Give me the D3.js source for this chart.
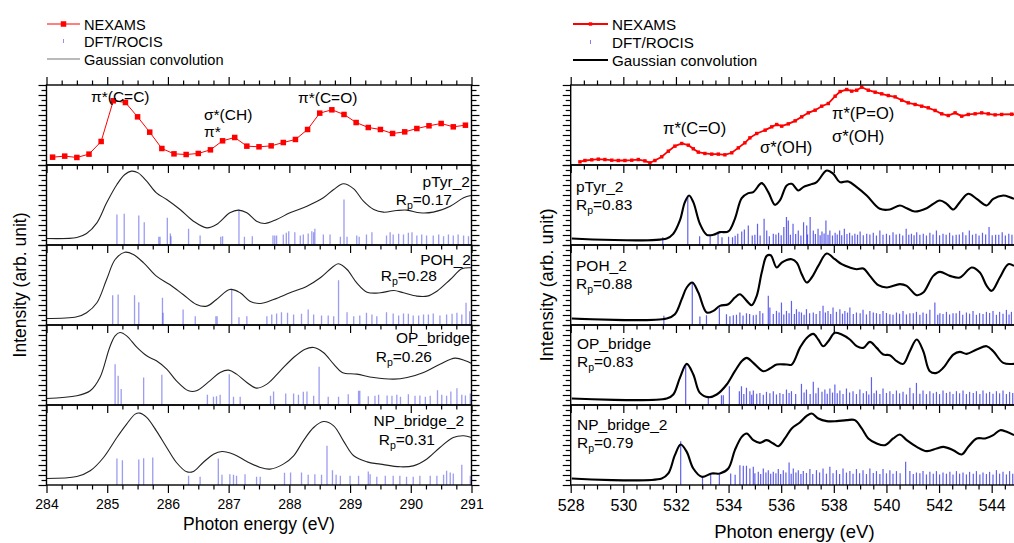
<!DOCTYPE html>
<html>
<head>
<meta charset="utf-8">
<script src="https://cdn.jsdelivr.net/npm/d3@7"></script>
<style>
  body { margin: 0; background: #fff; }
  svg { display: block; font-family: "Liberation Sans", Arial, sans-serif; }
  .axis path { display: none; }
  .axis line { stroke: #000; stroke-width: 1.2; }
</style>
</head>
<body>
<div id="chart"></div>
<script>
// ---- C K-edge (left) ----
const nexamsC = [[284.1,1.8],[284.3,3.2],[284.5,1.4],[284.7,5.9],[284.9,23],[285.1,78],[285.3,75.7],[285.5,56.3],[285.7,35.6],[285.9,13.5],[286.1,6.3],[286.3,5.4],[286.5,6.8],[286.7,11.7],[286.9,23.9],[287.1,28.4],[287.3,16.7],[287.5,15.8],[287.7,17.1],[287.9,21.6],[288.1,25.7],[288.3,39.2],[288.5,61.3],[288.7,65.8],[288.9,59.5],[289.1,48.6],[289.3,41.9],[289.5,39.2],[289.7,33.8],[289.9,36],[290.1,40.5],[290.3,44.2],[290.5,47.3],[290.7,42.8],[290.9,45]];

const convPTyrC = [[284.00,0],[284.50,1.4],[284.66,6.8],[284.83,21.2],[284.99,48.2],[285.16,73],[285.29,86.5],[285.40,91],[285.51,88.7],[285.65,77.5],[285.81,61.7],[285.98,52.7],[286.20,39.2],[286.42,23.4],[286.64,14.4],[286.80,18.9],[287.02,34.7],[287.16,38.3],[287.30,34.7],[287.46,23.4],[287.60,20.3],[287.79,25.7],[288.01,34.7],[288.29,43.7],[288.56,55],[288.73,66.2],[288.89,74],[289.06,67.1],[289.22,50.5],[289.39,39.2],[289.55,35.6],[289.77,37.8],[289.94,38.3],[290.15,34.7],[290.37,35.6],[290.65,43.7],[290.87,55],[290.99,58.1]];
const convPOHC = [[284.00,0],[284.50,2.3],[284.66,7.7],[284.83,21.2],[284.99,52.7],[285.13,79.7],[285.29,89.6],[285.43,86.5],[285.60,75.2],[285.81,57.2],[286.03,45.9],[286.25,32.4],[286.47,18.9],[286.64,16.7],[286.80,25.7],[287.02,39.2],[287.19,34.7],[287.35,23.4],[287.52,20.3],[287.74,25.7],[288.01,34.7],[288.29,43.7],[288.51,55],[288.73,70.7],[288.81,73.9],[288.95,66.2],[289.11,48.2],[289.28,35.6],[289.50,34.7],[289.72,37.8],[289.88,34.7],[290.10,30.2],[290.27,30.2],[290.43,36.9],[290.65,52.7],[290.84,67.1],[290.99,68.5]];
const convOPC = [[284.00,0],[284.50,3.6],[284.72,10.4],[284.88,28.4],[285.04,69],[285.13,84.7],[285.21,89.2],[285.32,84.7],[285.49,69],[285.65,57.7],[285.81,50.9],[285.98,39.7],[286.14,23.9],[286.34,10.4],[286.47,10.4],[286.69,23.9],[286.86,35.2],[287.00,38.3],[287.13,32.9],[287.30,21.7],[287.46,14],[287.63,19.4],[287.85,37.4],[288.07,55.4],[288.26,66.7],[288.40,69],[288.56,62.2],[288.73,46.4],[288.87,35.2],[289.11,32.9],[289.39,28.4],[289.72,26.2],[289.94,28.4],[290.21,35.2],[290.48,46.4],[290.73,54.5],[290.90,50.9],[291.00,47.3]];
const convNPC = [[284.00,0],[284.50,2.7],[284.72,10.4],[284.94,28.4],[285.16,55.4],[285.32,73.4],[285.46,87],[285.54,88.3],[285.65,82.5],[285.81,64.4],[285.98,41.9],[286.14,21.6],[286.31,9],[286.42,9.5],[286.58,21.6],[286.75,32.9],[286.89,36.5],[287.08,32.9],[287.30,23],[287.52,14.9],[287.68,12.7],[287.90,19.4],[288.07,30.7],[288.23,50.9],[288.40,68.9],[288.56,77],[288.73,71.2],[288.89,50.9],[289.06,30.7],[289.28,22.5],[289.50,19.4],[289.83,15.8],[290.04,17.1],[290.26,26.1],[290.48,41.9],[290.70,55.4],[290.87,57.7],[291.00,55.4]];

const sticksPTyrC = [[285.16,32.4],[285.28,33.3],[285.52,31.1],[285.61,22.1],[285.85,2.3],[285.87,2.3],[285.99,27.9],[286.04,6.8],[286.05,3.2],[286.34,13.1],[286.53,4.1],[286.87,2.3],[286.90,3.2],[287.17,39.2],[287.26,2.3],[287.39,3.2],[287.73,4.1],[287.76,4.1],[287.79,4.1],[287.90,5.4],[287.95,7.7],[287.99,9.9],[288.09,8.6],[288.18,4.1],[288.23,5.4],[288.31,6.8],[288.37,9.9],[288.40,8.6],[288.42,13.1],[288.56,5.4],[288.67,5.4],[288.84,2.3],[288.90,52.7],[288.95,2.3],[289.11,4.1],[289.15,2.3],[289.27,5.4],[289.36,8.6],[289.60,4.1],[289.66,8.6],[289.71,5.4],[289.80,6.4],[289.88,5.4],[289.96,7.7],[290.02,8.6],[290.10,4.1],[290.18,5.4],[290.26,4.1],[290.37,4.1],[290.46,5.4],[290.54,3.2],[290.62,5.4],[290.70,4.1],[290.78,5.4],[290.87,4.1],[290.95,3.2]];
const sticksPOHC = [[285.09,31.5],[285.18,32.4],[285.45,31.5],[285.52,22.1],[285.91,27.9],[285.92,7.7],[286.25,12.2],[286.45,3.2],[286.79,3.2],[286.81,3.2],[287.05,40.1],[287.17,1.8],[287.30,3.2],[287.63,3.2],[287.71,5.4],[287.79,6.8],[287.87,8.6],[287.97,7.7],[288.07,5.4],[288.20,6.3],[288.31,12.2],[288.40,5.4],[288.53,4.1],[288.64,4.1],[288.73,3.2],[288.81,51.8],[288.95,8.6],[289.06,3.2],[289.16,4.1],[289.27,7.7],[289.36,5.4],[289.44,3.2],[289.60,8.6],[289.71,6.8],[289.80,4.1],[289.88,6.8],[289.96,6.3],[290.04,4.1],[290.13,4.1],[290.21,5.4],[290.29,5.4],[290.37,6.8],[290.48,4.1],[290.59,5.4],[290.68,6.3],[290.76,7.7],[290.84,5.4],[290.91,21.2],[290.97,9.9]];
const sticksOPC = [[285.13,46.4],[285.18,30.7],[285.23,12.7],[285.60,28.4],[285.90,32],[286.65,5],[286.75,2.3],[286.80,3.2],[286.86,5],[287.01,32.9],[287.08,2.3],[287.19,2.3],[287.69,3.6],[287.74,9.5],[287.94,6.8],[288.07,6.8],[288.15,5],[288.23,9.1],[288.29,9.5],[288.40,3.6],[288.49,42.8],[288.64,2.3],[288.81,2.3],[288.97,5.9],[289.14,10.4],[289.16,10.4],[289.30,3.2],[289.41,3.6],[289.47,5],[289.61,4.1],[289.69,3.6],[289.77,5],[289.83,2.3],[289.96,5.9],[290.07,3.6],[290.15,4.1],[290.24,2.3],[290.32,3.6],[290.44,11.3],[290.51,5],[290.59,3.6],[290.66,9.5],[290.76,14],[290.84,5],[290.90,4.1],[290.98,6.8]];
const sticksNPC = [[285.16,27.1],[285.25,24.8],[285.52,25.7],[285.60,27.5],[285.75,28.4],[286.34,3.6],[286.53,2.3],[286.83,27.1],[286.89,5],[287.02,5.9],[287.08,5],[287.13,3.6],[287.27,5.9],[287.46,2.3],[287.52,2.3],[287.92,7.7],[288.02,8.1],[288.20,8.1],[288.31,5],[288.42,5.9],[288.53,5],[288.62,44.2],[288.71,11.3],[288.77,5],[288.84,3.6],[289.00,3.6],[289.14,3.6],[289.30,9.5],[289.33,5.9],[289.44,2.3],[289.58,3.6],[289.71,3.6],[289.82,3.6],[289.93,2.3],[290.04,2.3],[290.15,3.6],[290.32,3.6],[290.43,3.6],[290.54,5],[290.59,10.4],[290.65,8.1],[290.70,6.8],[290.84,18.5],[290.98,3.6]];

// ---- O K-edge (right) ----
const nexamsO = [[528.35,-4.5],[528.54,-2.7],[528.80,-1.8],[529.05,-0.9],[529.30,-1.4],[529.56,-2.3],[529.81,-2.7],[530.06,-2.7],[530.32,-2.3],[530.57,-1.4],[530.82,-3.2],[531.01,-5.9],[531.20,-2.7],[531.46,2.3],[531.71,9.9],[531.96,16.7],[532.22,20.3],[532.47,18],[532.66,13.1],[532.85,8.6],[533.10,6.8],[533.36,5.9],[533.61,5.9],[533.86,5],[534.12,7.7],[534.37,14.4],[534.62,21.2],[534.81,27.9],[535.07,33.8],[535.39,38.3],[535.64,42.8],[535.83,45.9],[536.02,43.7],[536.27,46.8],[536.53,50.9],[536.78,56.3],[537.03,61.7],[537.29,65.3],[537.54,70.7],[537.79,74.3],[538.05,84.2],[538.24,90.5],[538.49,93.2],[538.68,91],[538.87,92.3],[539.06,96.4],[539.31,92.3],[539.57,89.6],[539.82,87.4],[540.07,85.1],[540.33,83.3],[540.58,78.8],[540.83,75.2],[541.09,73],[541.34,70.7],[541.59,68.5],[541.85,64.9],[542.10,60.4],[542.35,58.1],[542.61,61.7],[542.86,57.2],[543.11,59.5],[543.37,60.4],[543.62,61.7],[543.87,60.4],[544.13,59],[544.38,59.5],[544.76,59.9],[544.95,59.5]];

const convPTyrO = [[528.04,0],[531.65,0],[531.90,6.4],[532.15,24.4],[532.34,49.1],[532.50,58.1],[532.66,49.1],[532.91,19.9],[533.17,5],[533.42,5],[533.67,8.6],[533.99,9.5],[534.24,26.6],[534.50,54.5],[534.75,61.3],[534.94,62.7],[535.26,74.8],[535.51,62.7],[535.76,45.5],[535.95,51.4],[536.21,71.7],[536.40,73.9],[536.65,64.9],[536.84,69.4],[537.09,72.6],[537.35,76.2],[537.73,91.9],[537.98,87.4],[538.23,76.2],[538.55,77.1],[538.87,69.4],[539.25,58.1],[539.75,40.1],[540.13,39.2],[540.51,44.6],[540.77,41],[541.08,36.5],[541.53,41],[542.03,51.4],[542.29,46.9],[542.54,39.2],[542.79,49.1],[543.11,60.4],[543.43,53.6],[543.81,44.6],[544.06,53.6],[544.44,58.1],[544.69,55.9],[544.85,53.6]];
const convPOHO = [[528.04,0],[531.65,0],[531.96,5.8],[532.22,26.1],[532.41,41.9],[532.62,48.6],[532.85,35.1],[533.17,8.1],[533.42,10.3],[533.67,17.1],[533.99,19.3],[534.24,28.3],[534.43,32.8],[534.69,23.8],[534.88,18],[535.07,30.6],[535.26,62.1],[535.45,84.6],[535.60,85.5],[535.83,68.9],[536.02,75.6],[536.21,79.2],[536.40,80.1],[536.59,75.6],[536.78,59.9],[536.97,48.6],[537.16,55.4],[537.41,71.1],[537.73,87.8],[538.04,80.1],[538.30,73.4],[538.61,68.9],[538.87,66.6],[539.12,67.5],[539.37,57.6],[539.69,45],[540.01,41.9],[540.51,46.4],[540.77,44.1],[541.15,31.5],[541.40,35.1],[541.78,57.6],[542.03,63],[542.41,57.6],[542.79,55.4],[543.24,68.9],[543.55,62.1],[543.81,44.1],[544.00,37.4],[544.31,55.4],[544.63,73.4],[544.85,71.1]];
const convOPO = [[528.04,0],[531.65,0],[531.90,5.4],[532.15,27.9],[532.41,46.8],[532.66,32.4],[532.91,7.6],[533.23,1.8],[533.55,5.4],[533.93,18.9],[534.24,36.9],[534.50,50.4],[534.69,54.9],[534.94,48.1],[535.32,36.9],[535.57,40.5],[535.83,45.9],[536.21,45.9],[536.40,45.9],[536.71,68.4],[536.97,81.9],[537.22,87.3],[537.41,79.7],[537.60,70.7],[537.79,77.4],[538.04,88.7],[538.30,86.4],[538.61,79.7],[538.87,70.7],[539.12,68.4],[539.37,76.5],[539.63,68.4],[539.88,59.4],[540.13,58.5],[540.39,50.4],[540.64,46.8],[540.89,63.9],[541.15,79.7],[541.40,63.9],[541.65,36.9],[541.91,34.6],[542.16,41.4],[542.54,59.4],[542.79,63],[543.05,60.3],[543.43,66.2],[543.81,70.7],[544.06,63.9],[544.44,48.1],[544.85,46.8]];
const convNPO = [[528.04,0],[531.46,0],[531.71,6.8],[531.96,31.5],[532.18,45.9],[532.41,36],[532.66,13.5],[532.98,2.3],[533.36,6.8],[533.67,6.8],[533.99,13.5],[534.24,38.3],[534.50,56.3],[534.69,60.8],[534.94,51.8],[535.19,48.2],[535.45,51.8],[535.70,47.3],[535.89,43.7],[536.14,54.1],[536.40,67.6],[536.71,75.7],[536.97,84.7],[537.16,87.9],[537.41,81.1],[537.73,77.5],[538.11,77.5],[538.49,78.9],[538.80,78.9],[539.06,67.6],[539.31,54.1],[539.63,47.3],[539.94,45],[540.26,54.1],[540.51,59.5],[540.77,51.8],[541.15,42.8],[541.53,37],[541.91,40.5],[542.16,42.8],[542.54,38.3],[542.86,32.4],[543.11,42.8],[543.43,54.1],[543.75,54.1],[544.06,58.6],[544.32,65.3],[544.57,63.1],[544.85,58.6]];

const sticksPTyrO = [[531.50,1.8],[532.45,58],[532.90,3.2],[533.30,4.1],[533.60,7.7],[533.75,1.8],[534.00,2.3],[534.15,1.8],[534.25,3.6],[534.35,6.4],[534.50,9.5],[534.60,12.2],[534.75,17.6],[534.90,4.1],[535.00,5],[535.10,19.9],[535.20,4],[535.35,26.6],[535.45,10.9],[535.55,3.2],[535.70,6.4],[535.80,5.4],[535.90,7.7],[536.00,4.5],[536.10,15.4],[536.20,28.9],[536.27,24.4],[536.35,5],[536.45,19.9],[536.55,6],[536.65,10.9],[536.75,4],[536.85,22.1],[536.97,17.6],[537.00,5.4],[537.10,28.9],[537.22,10.9],[537.30,6],[537.40,13.1],[537.48,4.5],[537.55,9.5],[537.63,6.8],[537.70,24.4],[537.78,5],[537.85,10.9],[537.95,4],[538.05,7.7],[538.13,5.4],[538.22,10.9],[538.30,4.5],[538.40,13.1],[538.50,6],[538.60,7.7],[538.70,4],[538.80,6.4],[538.90,5],[539.00,9.5],[539.12,4.5],[539.25,6.4],[539.37,5.4],[539.50,7.7],[539.62,4],[539.75,10.9],[539.87,5],[540.00,6.4],[540.12,4.5],[540.25,8.6],[540.37,5.4],[540.50,6.4],[540.62,4],[540.75,13.1],[540.85,5],[540.95,6.4],[541.05,4.5],[541.15,8.6],[541.27,5],[541.40,6.4],[541.52,4],[541.65,7.7],[541.77,5.4],[541.90,10.9],[542.02,4.5],[542.15,6.4],[542.27,5],[542.40,7.7],[542.52,4],[542.65,5],[542.77,5.4],[542.90,8.6],[543.02,4.5],[543.15,10.9],[543.27,5],[543.40,6.4],[543.52,4],[543.65,7.7],[543.77,5.4],[543.90,15.4],[544.02,4.5],[544.15,5],[544.27,5],[544.40,8.6],[544.52,4],[544.65,6.4],[544.77,5]];
const sticksPOHO = [[531.54,3.6],[532.62,48.6],[532.91,2.7],[533.16,4.5],[533.65,14.8],[533.92,5.8],[534.05,3],[534.18,4.5],[534.30,5],[534.43,8.1],[534.55,4],[534.68,7.2],[534.80,6],[534.94,4.5],[535.05,5],[535.19,10.3],[535.30,7],[535.51,30.6],[535.57,14.8],[535.70,6],[535.82,10.3],[535.92,8],[536.01,21.6],[536.10,5.5],[536.20,10.3],[536.30,7],[536.39,23.8],[536.50,6],[536.58,12.6],[536.68,9],[536.77,8.1],[536.87,5],[536.96,12.6],[537.08,7],[537.22,8.1],[537.33,6],[537.47,10.3],[537.59,17.1],[537.68,8],[537.78,10.3],[537.88,6],[537.97,14.8],[538.10,9],[538.23,12.6],[538.33,6.5],[538.42,10.3],[538.52,8],[538.61,14.8],[538.74,6],[538.86,8.1],[539.00,7],[539.11,11.7],[539.24,5.5],[539.37,10.3],[539.50,8],[539.62,7.2],[539.75,6],[539.87,10.3],[540.00,7.5],[540.13,5.8],[540.25,5],[540.38,8.1],[540.50,6.5],[540.63,10.3],[540.76,5.5],[540.89,7.2],[541.02,7],[541.14,9],[541.27,5],[541.39,8.1],[541.52,6.5],[541.65,11.7],[541.84,21.6],[541.95,5],[542.03,7.2],[542.15,6],[542.28,9],[542.40,5.5],[542.53,7.2],[542.65,7],[542.78,10.3],[542.90,5],[543.04,8.1],[543.16,6.5],[543.29,10.3],[543.42,5],[543.54,7.2],[543.67,6],[543.80,9],[543.92,7.5],[544.05,10.3],[544.18,5],[544.30,9],[544.43,6.5],[544.56,11.7],[544.66,5.5],[544.75,9],[544.88,7]];
const sticksOPO = [[532.37,46.8],[533.23,3.1],[533.73,4.5],[533.80,4.5],[534.03,16.6],[534.41,9.9],[534.49,16.6],[534.58,6],[534.68,14.4],[534.81,9.9],[534.88,5],[534.94,10.8],[535.07,6.5],[535.19,7.6],[535.32,5],[535.44,9],[535.57,7],[535.70,9.9],[535.82,5.5],[535.95,7.6],[536.07,6],[536.20,12.1],[536.30,7.5],[536.39,9.9],[536.55,6],[536.77,19.8],[536.87,8],[536.96,12.1],[537.10,6],[537.22,22.5],[537.32,7],[537.41,14.4],[537.55,9],[537.66,12.1],[537.75,6.5],[537.85,13.5],[537.95,8],[538.04,18.9],[538.13,7],[538.23,10.8],[538.35,6],[538.48,13.5],[538.60,8],[538.73,9.9],[538.86,6],[538.99,12.1],[539.12,7],[539.24,9.9],[539.33,5.5],[539.43,28.8],[539.53,7],[539.62,10.8],[539.75,6],[539.87,13.5],[540.00,7.5],[540.13,9.9],[540.25,6],[540.38,10.8],[540.50,7],[540.63,9],[540.76,5.5],[540.89,14.4],[541.02,7],[541.14,21.1],[541.27,6.5],[541.39,10.8],[541.52,6],[541.65,9.9],[541.78,7],[541.90,9],[542.02,6],[542.15,10.8],[542.28,7.5],[542.41,9],[542.53,6],[542.66,9.9],[542.78,7],[542.91,10.8],[543.04,6],[543.16,9],[543.30,7.5],[543.42,9.9],[543.55,6],[543.67,10.8],[543.80,7],[543.92,9],[544.05,6.5],[544.18,9.9],[544.30,7],[544.43,10.8],[544.56,6],[544.68,9],[544.80,7.5]];
const sticksNPO = [[532.18,50.5],[533.01,2],[533.32,6.8],[533.65,5.4],[534.08,6.8],[534.25,5],[534.43,18],[534.56,17.2],[534.68,17.2],[534.81,13.6],[534.94,15.8],[535.00,7],[535.13,9],[535.22,6],[535.32,13.6],[535.42,8],[535.51,11.3],[535.60,6.5],[535.70,9],[535.80,7],[535.89,12.7],[535.98,6],[536.08,11.3],[536.18,8],[536.30,21.6],[536.38,6.5],[536.46,13.6],[536.56,8],[536.65,11.3],[536.75,6],[536.84,10],[536.96,7.5],[537.09,12.7],[537.20,6],[537.34,11.3],[537.46,8],[537.59,13.6],[537.72,6.5],[537.85,15.8],[537.97,7],[538.10,11.3],[538.22,6],[538.35,13.6],[538.48,8],[538.61,10],[538.73,6.5],[538.86,12.7],[538.98,7],[539.11,11.3],[539.24,6],[539.37,13.6],[539.50,7.5],[539.62,10],[539.75,6],[539.87,12.7],[540.00,7],[540.13,11.3],[540.25,6.5],[540.38,10],[540.52,7],[540.73,22.5],[540.89,10],[541.02,6],[541.14,8.1],[541.27,7],[541.39,10],[541.52,5.5],[541.65,9],[541.78,6.5],[541.90,10],[542.02,5.5],[542.15,8.1],[542.28,6.5],[542.41,9],[542.53,5.5],[542.66,10],[542.78,6.5],[542.91,8.1],[543.04,5.5],[543.16,9],[543.30,6.5],[543.42,10],[543.55,5.5],[543.67,8.1],[543.80,6],[543.92,9],[544.05,5.5],[544.18,11.3],[544.30,6.5],[544.43,9],[544.56,5.5],[544.68,10],[544.80,6.5]];

// ---- layout ----
const [width, height] = [1014, 543];
const panelTops = [85, 165, 245, 325, 405];
const panelH = 80;
const bottom = panelTops[4] + panelH;

const svg = d3.select("#chart").append("svg")
  .attr("width", width).attr("height", height);

const leftPlot = {
  id: "L", domain: [284, 291], left: 46.5, right: 471.5,
  major: d3.range(284, 291.001, 1), minor: d3.range(284, 291.001, 0.25),
  tickFont: 14, tickPad: 6, titleFont: 17.5, titleY: 530, yTitleX: 26,
  nexams: nexamsC, marker: 5.5, nexW: 1,
  convColor: "#222", convW: 1.1,
  stickColor: "#4a4ae6", stickOpacity: 0.55, stickW: 1.3,
  legend: { x1: 47, x2: 80, tx: 84, ys: [24, 41, 59], font: 14.6, gaussColor: "#777" },
  notes: [
    { t: "\u03c0*(C=C)", x: 91, y: 102 },
    { t: "\u03c3*(CH)", x: 204, y: 120 },
    { t: "\u03c0*", x: 204, y: 137 },
    { t: "\u03c0*(C=O)", x: 298, y: 103 }
  ],
  noteFont: 15.5,
  panels: [
    { conv: convPTyrC, sticks: sticksPTyrC, name: "pTyr_2", rp: "0.17", nx: 470, ny: 187, rx: 452, ry: 205 },
    { conv: convPOHC, sticks: sticksPOHC, name: "POH_2", rp: "0.28", nx: 471, ny: 265, rx: 437, ry: 281 },
    { conv: convOPC, sticks: sticksOPC, name: "OP_bridge", rp: "0.26", nx: 470, ny: 343, rx: 432, ry: 362 },
    { conv: convNPC, sticks: sticksNPC, name: "NP_bridge_2", rp: "0.31", nx: 464, ny: 426, rx: 435, ry: 445 }
  ],
  labelAnchor: "end", labelFont: 15.5
};

const rightPlot = {
  id: "R", domain: [528, 545], left: 570.7, right: 1018,
  major: d3.range(528, 544.001, 2), minor: d3.range(528, 545.001, 0.5),
  tickFont: 16, tickPad: 7, titleFont: 18.5, titleY: 538, yTitleX: 553,
  nexams: nexamsO, marker: 3.4, nexW: 1.8,
  convColor: "#000", convW: 2.1,
  stickColor: "#2b2be2", stickOpacity: 0.75, stickW: 1.2,
  legend: { x1: 573, x2: 608, tx: 612, ys: [24, 42, 60], font: 15.2, gaussColor: "#000" },
  notes: [
    { t: "\u03c0*(C=O)", x: 663, y: 134 },
    { t: "\u03c3*(OH)", x: 760, y: 153 },
    { t: "\u03c0*(P=O)", x: 832, y: 119 },
    { t: "\u03c3*(OH)", x: 832, y: 142 }
  ],
  noteFont: 16.5,
  panels: [
    { conv: convPTyrO, sticks: sticksPTyrO, name: "pTyr_2", rp: "0.83", nx: 576, ny: 192, rx: 576, ry: 210 },
    { conv: convPOHO, sticks: sticksPOHO, name: "POH_2", rp: "0.88", nx: 576, ny: 271, rx: 576, ry: 289 },
    { conv: convOPO, sticks: sticksOPO, name: "OP_bridge", rp: "0.83", nx: 577, ny: 349, rx: 577, ry: 367 },
    { conv: convNPO, sticks: sticksNPO, name: "NP_bridge_2", rp: "0.79", nx: 577, ny: 430, rx: 577, ry: 448 }
  ],
  labelAnchor: "start", labelFont: 15.5
};

// curve baseline sits 6.5 px above the panel floor; 100 units = 74 px
function panelY(i) {
  const base = panelTops[i] + panelH - 6.5;
  return d3.scaleLinear().domain([0, 100]).range([base, base - 74]);
}

function drawPlot(p) {
  const x = d3.scaleLinear().domain(p.domain).range([p.left, p.right]);
  const minorOnly = p.minor.filter(v => !p.major.some(m => Math.abs(m - v) < 1e-6));

  svg.append("clipPath").attr("id", "clip" + p.id)
    .append("rect")
    .attr("x", p.left).attr("y", panelTops[0])
    .attr("width", p.right - p.left).attr("height", bottom - panelTops[0]);

  const plot = svg.append("g").attr("clip-path", `url(#clip${p.id})`);

  // experimental spectrum (top panel)
  const y0 = panelY(0);
  const nexLine = d3.line().x(d => x(d[0])).y(d => y0(d[1]));
  plot.append("path").datum(p.nexams)
    .attr("d", nexLine).attr("fill", "none")
    .attr("stroke", "#f00").attr("stroke-width", p.nexW);
  plot.selectAll(".nex" + p.id).data(p.nexams).enter().append("rect")
    .attr("x", d => x(d[0]) - p.marker / 2)
    .attr("y", d => y0(d[1]) - p.marker / 2)
    .attr("width", p.marker).attr("height", p.marker)
    .attr("fill", "#f00");

  // calculated panels
  p.panels.forEach((pan, k) => {
    const y = panelY(k + 1);
    const floor = panelTops[k + 1] + panelH;   // sticks rise from the panel floor
    plot.append("g").selectAll("line").data(pan.sticks).enter().append("line")
      .attr("x1", d => x(d[0])).attr("x2", d => x(d[0]))
      .attr("y1", floor).attr("y2", d => y(d[1]))
      .attr("stroke", p.stickColor).attr("stroke-opacity", p.stickOpacity)
      .attr("stroke-width", p.stickW);

    const line = d3.line().x(d => x(d[0])).y(d => y(d[1])).curve(d3.curveCatmullRom.alpha(0.5));
    plot.append("path").datum(pan.conv)
      .attr("d", line).attr("fill", "none")
      .attr("stroke", p.convColor).attr("stroke-width", p.convW)
      .attr("stroke-linejoin", "round");

    svg.append("text").attr("x", pan.nx).attr("y", pan.ny)
      .attr("text-anchor", p.labelAnchor).attr("font-size", p.labelFont).text(pan.name);
    const rp = svg.append("text").attr("x", pan.rx).attr("y", pan.ry)
      .attr("text-anchor", p.labelAnchor).attr("font-size", p.labelFont);
    rp.append("tspan").text("R");
    rp.append("tspan").attr("dy", 4).attr("font-size", p.labelFont * 0.68).text("p");
    rp.append("tspan").attr("dy", -4).text("=" + pan.rp);
  });

  // frames and ticks
  panelTops.forEach((top, i) => {
    svg.append("rect")
      .attr("x", p.left).attr("y", top)
      .attr("width", p.right - p.left).attr("height", panelH)
      .attr("fill", "none").attr("stroke", "#000").attr("stroke-width", 1.4);

    const axisFn = i === 0 ? d3.axisTop : d3.axisBottom;
    svg.append("g").attr("class", "axis")
      .attr("transform", `translate(0,${top})`)
      .call(axisFn(x).tickValues(p.major).tickSize(8).tickFormat(""));
    svg.append("g").attr("class", "axis")
      .attr("transform", `translate(0,${top})`)
      .call(axisFn(x).tickValues(minorOnly).tickSize(4.5).tickFormat(""));

    const yt = d3.scaleLinear().domain([0, 16]).range([top + panelH, top]);
    const ym = d3.range(0, 17, 2), yn = d3.range(1, 16, 2);
    [[d3.axisLeft, p.left], [d3.axisRight, p.right]].forEach(([fn, xx]) => {
      svg.append("g").attr("class", "axis").attr("transform", `translate(${xx},0)`)
        .call(fn(yt).tickValues(ym).tickSize(8).tickFormat(""));
      svg.append("g").attr("class", "axis").attr("transform", `translate(${xx},0)`)
        .call(fn(yt).tickValues(yn).tickSize(5).tickFormat(""));
    });
  });

  // bottom axis with labels
  const xb = svg.append("g").attr("class", "axis")
    .attr("transform", `translate(0,${bottom})`)
    .call(d3.axisBottom(x).tickValues(p.major).tickSize(8).tickPadding(p.tickPad).tickFormat(d3.format("d")));
  svg.append("g").attr("class", "axis")
    .attr("transform", `translate(0,${bottom})`)
    .call(d3.axisBottom(x).tickValues(minorOnly).tickSize(4.5).tickFormat(""));
  xb.selectAll("text").attr("font-size", p.tickFont)
    .attr("font-family", "Liberation Sans, Arial, sans-serif").attr("fill", "#000");

  // axis titles
  svg.append("text")
    .attr("x", (p.left + Math.min(p.right, width + 4)) / 2).attr("y", p.titleY)
    .attr("text-anchor", "middle").attr("font-size", p.titleFont)
    .text("Photon energy (eV)");
  svg.append("text")
    .attr("transform", `translate(${p.yTitleX},${(panelTops[0] + bottom) / 2}) rotate(-90)`)
    .attr("text-anchor", "middle").attr("font-size", p.titleFont)
    .text("Intensity (arb. unit)");

  // annotations
  p.notes.forEach(n => {
    svg.append("text").attr("x", n.x).attr("y", n.y)
      .attr("font-size", p.noteFont).text(n.t);
  });

  // legend
  const L = p.legend;
  const mid = (L.x1 + L.x2) / 2;
  const lg = svg.append("g");
  lg.append("line").attr("x1", L.x1).attr("x2", L.x2).attr("y1", L.ys[0]).attr("y2", L.ys[0])
    .attr("stroke", "#f00").attr("stroke-width", p.nexW);
  lg.append("rect").attr("x", mid - p.marker / 2).attr("y", L.ys[0] - p.marker / 2)
    .attr("width", p.marker).attr("height", p.marker).attr("fill", "#f00");
  lg.append("line").attr("x1", mid).attr("x2", mid)
    .attr("y1", L.ys[1] - 2).attr("y2", L.ys[1] + 2)
    .attr("stroke", p.stickColor).attr("stroke-opacity", 0.6).attr("stroke-width", 1);
  lg.append("line").attr("x1", L.x1).attr("x2", L.x2).attr("y1", L.ys[2]).attr("y2", L.ys[2])
    .attr("stroke", L.gaussColor).attr("stroke-width", p.convW);
  ["NEXAMS", "DFT/ROCIS", "Gaussian convolution"].forEach((t, i) => {
    lg.append("text").attr("x", L.tx).attr("y", L.ys[i] + 5.5)
      .attr("font-size", L.font).text(t);
  });
}

drawPlot(leftPlot);
drawPlot(rightPlot);
</script>
</body>
</html>
